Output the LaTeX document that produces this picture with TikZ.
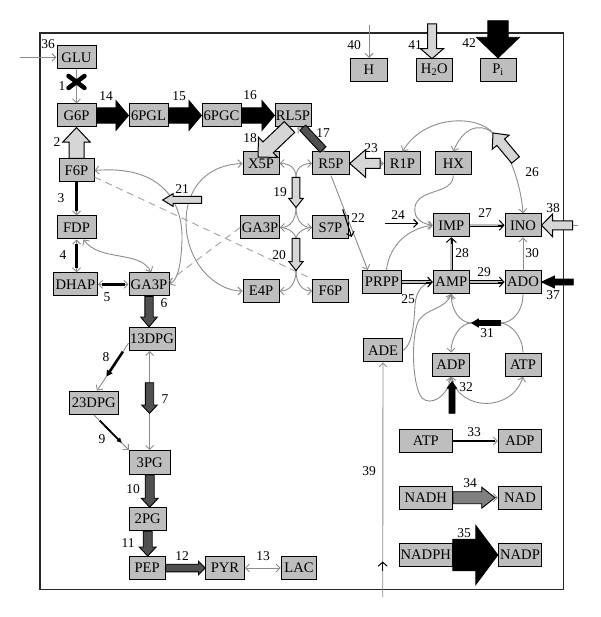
\documentclass[tikz,border=0pt]{standalone}
\usepackage{fontspec}
\setmainfont{Liberation Serif}
\usetikzlibrary{arrows.meta,calc}
\definecolor{boxfill}{RGB}{190,190,190}
\definecolor{lightfill}{RGB}{214,214,214}
\definecolor{darkfill}{RGB}{80,80,80}
\definecolor{midfill}{RGB}{128,128,128}
\definecolor{linegray}{RGB}{140,140,140}
\definecolor{dashgray}{RGB}{168,168,168}
\definecolor{framec}{RGB}{40,40,40}
\newcommand{\blkarr}[6]{%
  \draw[#1] let \p1=(#2), \p2=(#3), \p3=($(\p2)!#6pt!(\p1)$) in
   ($(\p1)!#4pt!90:(\p2)$) -- ($(\p3)!#4pt!90:(\p2)$) -- ($(\p3)!#5pt!90:(\p2)$) -- (\p2)
   -- ($(\p3)!#5pt!-90:(\p2)$) -- ($(\p3)!#4pt!-90:(\p2)$) -- ($(\p1)!#4pt!-90:(\p2)$) -- cycle;}
\begin{document}
\begin{tikzpicture}[x=1pt,y=-1pt,
  box/.style={draw=black, line width=1pt, fill=boxfill, minimum height=23pt, inner sep=0pt, font=\fontsize{14.6}{16}\selectfont},
  lab/.style={font=\fontsize{13.5}{15}\selectfont, inner sep=0pt},
  ga/.style={draw=linegray, line width=0.9pt, -{Straight Barb[length=4pt,width=8pt]}},
  gab/.style={draw=linegray, line width=0.9pt, {Straight Barb[length=4pt,width=8pt]}-{Straight Barb[length=4pt,width=8pt]}},
  gl/.style={draw=linegray, line width=0.9pt},
  dsh/.style={draw=dashgray, line width=1pt, dash pattern=on 7pt off 5pt},
  dbl/.style={draw=black, line width=0.7pt, double=boxfill, double distance=1.8pt, shorten >=2pt},
  dhead/.style={draw=black, line width=1pt, -{Straight Barb[length=4.5pt,width=10pt]}},
  bhead/.style={draw=black, line width=1.1pt, -{Straight Barb[length=4pt,width=8pt]}},
  blkfill/.style={fill=black, draw=black, line width=0.8pt},
  lfill/.style={fill=lightfill, draw=black, line width=1pt},
  dfill/.style={fill=darkfill, draw=black, line width=0.9pt},
  mfill/.style={fill=midfill, draw=black, line width=0.9pt}
]
\useasboundingbox (0,0) rectangle (600,617);
\draw[line width=1.2pt, draw=framec] (40,33) rectangle (563.5,589.5);

% ---------- boxes ----------
\node[box, minimum width=39pt] (GLU) at (76.5,57.5) {GLU};
\node[box, minimum width=39pt] (G6P) at (76.5,115.5) {G6P};
\node[box, minimum width=39pt] (pgl) at (148.5,115.5) {6PGL};
\node[box, minimum width=39pt] (pgc) at (221.5,115.5) {6PGC};
\node[box, minimum width=36pt] (RL5P) at (293,115.5) {RL5P};
\node[box, minimum width=36.6pt] (H) at (369,70) {H};
\node[box, minimum width=36.6pt] (HtwoO) at (434.3,70) {H\textsubscript{2}O};
\node[box, minimum width=36pt] (Pi) at (498,70) {P\textsubscript{i}};
\node[box, minimum width=35pt] (F6Pa) at (76.5,170.5) {F6P};
\node[box, minimum width=36pt] (X5P) at (261,163.5) {X5P};
\node[box, minimum width=36.6pt] (R5P) at (331,163.5) {R5P};
\node[box, minimum width=36.4pt] (R1P) at (402.5,163.5) {R1P};
\node[box, minimum width=36.6pt] (HX) at (453.3,163.5) {HX};
\node[box, minimum width=39pt] (FDP) at (76.5,227.5) {FDP};
\node[box, minimum width=44pt] (DHAP) at (75.5,284.3) {DHAP};
\node[box, minimum width=40pt] (GA3Pa) at (149,284.3) {GA3P};
\node[box, minimum width=38.6pt] (GA3Pb) at (260,227.5) {GA3P};
\node[box, minimum width=35.6pt] (S7P) at (330.5,227.5) {S7P};
\node[box, minimum width=36pt] (E4P) at (261,291) {E4P};
\node[box, minimum width=35.6pt] (F6Pb) at (330.5,291) {F6P};
\node[box, minimum width=36pt] (IMP) at (451.3,225.3) {IMP};
\node[box, minimum width=36pt] (INO) at (523,225.3) {INO};
\node[box, minimum width=39pt] (PRPP) at (382,282) {PRPP};
\node[box, minimum width=36pt] (AMP) at (451.3,282) {AMP};
\node[box, minimum width=36pt] (ADO) at (523,282) {ADO};
\node[box, minimum width=39.4pt] (ADE) at (383,350.3) {ADE};
\node[box, minimum width=36.6pt] (ADPa) at (451,364.7) {ADP};
\node[box, minimum width=36pt] (ATPa) at (523,364.7) {ATP};
\node[box, minimum width=46pt] (pc13) at (152,339) {13DPG};
\node[box, minimum width=49pt] (pc23) at (93.8,402.7) {23DPG};
\node[box, minimum width=40.7pt, minimum height=24pt] (PG3) at (149.7,462.5) {3PG};
\node[box, minimum width=36.7pt] (PG2) at (147.7,519.2) {2PG};
\node[box, minimum width=35.7pt] (PEP) at (147.2,568) {PEP};
\node[box, minimum width=38.6pt] (PYR) at (225,568) {PYR};
\node[box, minimum width=35.7pt] (LAC) at (299,568) {LAC};
\node[box, minimum width=53pt] (ATPb) at (425.8,441) {ATP};
\node[box, minimum width=43.3pt] (ADPb) at (520,441) {ADP};
\node[box, minimum width=53pt] (NADH) at (425.8,497.7) {NADH};
\node[box, minimum width=43.3pt] (NAD) at (520,497.7) {NAD};
\node[box, minimum width=53pt] (NADPH) at (425.8,555) {NADPH};
\node[box, minimum width=43.3pt] (NADP) at (520,555) {NADP};

% ---------- coordinates ----------
\coordinate (s36) at (20,57.5);
\coordinate (x1) at (76.5,82);
\coordinate (a7) at (149.5,382.7);
\coordinate (b7) at (149.5,413.3);
\coordinate (a17) at (323,149.5);
\coordinate (b17) at (302.5,127.5);
\coordinate (a18) at (289.5,127);
\coordinate (b18) at (258,157);
\coordinate (j19a) at (296,177.3);
\coordinate (j19b) at (296,207.5);
\coordinate (j20a) at (296,238.5);
\coordinate (j20b) at (296,270.5);
\coordinate (a21) at (201.7,200);
\coordinate (b21) at (162.7,200);
\coordinate (a22) at (342.7,209.3);
\coordinate (b22) at (351.7,237);
\coordinate (a23) at (380,163.5);
\coordinate (a24) at (385,223.3);
\coordinate (b24) at (418.3,223.3);
\coordinate (j26) at (493,133);
\coordinate (t26) at (515.5,160);
\coordinate (s38) at (578,225.3);
\coordinate (a38) at (572.7,225.3);
\coordinate (a37) at (573.3,282);
\coordinate (j31r) at (500.7,323);
\coordinate (j31l) at (471.7,323);
\coordinate (a32) at (452,413.3);
\coordinate (b32) at (452,381.7);
\coordinate (c34) at (495,497.7);
\coordinate (s39) at (382.7,597);
\coordinate (h39a) at (382.7,571);
\coordinate (h39b) at (382.7,561.5);
\coordinate (s40) at (369,25);
\coordinate (s41) at (432,24);
\coordinate (e41) at (432,58.7);
\coordinate (s42) at (498,20.7);

% ---------- thin connectors ----------
\draw[ga] (s36) -- (GLU.west);
\draw[ga] (GLU.south) -- (G6P.north);
\draw[line width=4.5pt, line cap=round] ($(x1)+(-8,-6)$) -- ($(x1)+(8,6)$) ($(x1)+(-8,6)$) -- ($(x1)+(8,-6)$);

\draw[ga] (F6Pa.south) -- (FDP.north);
\draw[line width=2.6pt, shorten >=4pt] (F6Pa.south) -- (FDP.north);
\draw[gab] (FDP.south) -- (FDP.south |- DHAP.north);
\draw[line width=2.6pt, shorten >=4pt, shorten <=4pt] (FDP.south) -- (FDP.south |- DHAP.north);
\draw[gab] (DHAP.east) -- (GA3Pa.west);
\draw[line width=2.6pt, shorten >=4pt, shorten <=4pt] (DHAP.east) -- (GA3Pa.west);
\draw[gab] (FDP.-60) .. controls (100,262) and (140,250) .. (GA3Pa.80);

\draw[gab] (PG3.north |- pc13.south) -- (PG3.north);
\draw[ga] (pc13.190) -- (pc23.75);
\draw[line width=2.6pt, -{Triangle[length=6pt,width=6.5pt]}] ($(pc13.190)!0.18!(pc23.75)$) -- ($(pc13.190)!0.7!(pc23.75)$);
\draw[ga] (pc23.south) -- (PG3.north west);
\draw[line width=1.8pt, -{Triangle[length=5pt,width=4.5pt]}] ($(pc23.south)!0.17!(PG3.north west)$) -- ($(pc23.south)!0.8!(PG3.north west)$);
\draw[gab] (PG3.south) -- (PG3.south |- PG2.north);
\draw[gab] (PYR.east) -- (LAC.west);

\draw[dsh] (F6Pa.-20) -- (F6Pb.north west);
\draw[dsh] (GA3Pb.west) -- (GA3Pa.10);

\draw[gab] (F6Pa.east) .. controls (160,165) and (183,200) .. (182,240) .. controls (181,268) and (177,280) .. (GA3Pa.east);
\draw[gab] (X5P.west) .. controls (205,165) and (186,190) .. (186,222) .. controls (186,262) and (215,291) .. (E4P.west);

\draw[gab] (RL5P.-70) -- (R5P.118);

\draw[gl] (j19a) -- (j19b);
\draw[gl] (j20a) -- (j20b);
\draw[ga] (j19a) .. controls (296,168) and (290,163.5) .. (X5P.east);
\draw[ga] (j19a) .. controls (296,168) and (302,163.5) .. (R5P.west);
\draw[ga] (j19b) .. controls (296,220) and (290,227.5) .. (GA3Pb.east);
\draw[ga] (j19b) .. controls (296,220) and (302,227.5) .. (S7P.west);
\draw[gl] (j20a) .. controls (296,235) and (290,227.5) .. (GA3Pb.east);
\draw[gl] (j20a) .. controls (296,235) and (302,227.5) .. (S7P.west);
\draw[ga] (j20b) .. controls (296,283) and (290,291) .. (E4P.east);
\draw[ga] (j20b) .. controls (296,283) and (302,291) .. (F6Pb.west);

\draw[ga] (R5P.south) -- (PRPP.140);
\draw[bhead] (a22) -- (b22);
\draw[ga] (a23) -- (R1P.west);
\draw[bhead] (a24) -- (b24);

\draw[ga] (HX.south) .. controls (453,195) and (418,188) .. (415,207) .. controls (413,220) and (424,224) .. (IMP.west);
\draw[ga] (PRPP.70) .. controls (390,243) and (410,228) .. (IMP.west);
\draw[ga] (ADE.east) .. controls (412,345) and (414,325) .. (415,305) .. controls (416,290) and (424,283) .. (AMP.west);

\draw[ga] (j26) .. controls (510,152) and (521,185) .. (INO.north);
\draw[ga] (j26) .. controls (478,121) and (462,130) .. (HX.north);
\draw[ga] (j26) .. controls (478,115) and (425,114) .. (R1P.north);

\draw[dbl] (IMP.east) -- (INO.west);
\draw[dhead] ($(INO.west)+(-7,0)$) -- (INO.west);
\draw[dbl] (AMP.east) -- (ADO.west);
\draw[dhead] ($(ADO.west)+(-7,0)$) -- (ADO.west);
\draw[dbl] (PRPP.east) -- (AMP.west);
\draw[dhead] ($(AMP.west)+(-7,0)$) -- (AMP.west);
\draw[dbl] (AMP.north) -- (IMP.south);
\draw[dhead] ($(IMP.south)+(0,7)$) -- (IMP.south);
\draw[ga] (ADO.north) -- (INO.south);
\draw[gl] (s38) -- (a38);

\draw[gl] (ADO.south) .. controls (523,312) and (512,323) .. (j31r);
\draw[gl] (ATPa.north) .. controls (523,338) and (512,324) .. (j31r);
\draw[gl] (j31l) -- (j31r);
\draw[ga] (j31l) .. controls (460,323) and (451,310) .. (AMP.south);
\draw[ga] (j31l) .. controls (460,323) and (451,338) .. (ADPa.north);
\draw[gab] (AMP.south) .. controls (445,310) and (425,308) .. (418,322) .. controls (411,338) and (412,386) .. (422,398) .. controls (430,406) and (447,398) .. (ADPa.south);
\draw[gab] (ADPa.south) .. controls (460,412) and (512,412) .. (ATPa.south);

\draw[ga] (ATPb.east) -- (ADPb.west);
\draw[line width=1.1pt, shorten >=3pt] (ATPb.east) -- (ADPb.west);
\draw[ga] (c34) -- (NAD.west);

\draw[ga] (s39) -- (ADE.south);
\draw[draw=black, line width=1pt, -{Straight Barb[length=4pt,width=9pt]}] (h39a) -- (h39b);
\draw[ga] (s40) -- (H.north);

% ---------- block arrows ----------
\blkarr{blkfill}{G6P.east}{pgl.west}{7.7}{15}{12.6}
\blkarr{blkfill}{pgl.east}{pgc.west}{7.7}{15}{12.6}
\blkarr{blkfill}{pgc.east}{RL5P.west}{7.7}{15}{12.6}
\blkarr{lfill}{F6Pa.north}{G6P.south}{7.5}{13.7}{14.6}
\blkarr{dfill}{GA3Pa.south}{GA3Pa.south |- pc13.north}{4.2}{8.3}{10}
\blkarr{dfill}{a7}{b7}{4.2}{7.8}{8.3}
\blkarr{dfill}{PG3.south}{PG3.south |- PG2.north}{4.5}{8.5}{9}
\blkarr{dfill}{PG2.south}{PG2.south |- PEP.north}{4.5}{8.5}{9}
\blkarr{dfill}{PEP.east}{PYR.west}{3.8}{6.7}{6.7}
\blkarr{dfill}{a17}{b17}{4}{4}{0.5}
\blkarr{lfill}{a18}{b18}{7.5}{14}{14}
\blkarr{lfill}{j19a}{j19b}{3.8}{7.2}{9}
\blkarr{lfill}{j20a}{j20b}{3.8}{7.2}{9}
\blkarr{lfill}{a21}{b21}{3.5}{6.3}{10.3}
\blkarr{lfill}{a23}{R5P.east}{5}{13.8}{15.7}
\blkarr{lfill}{t26}{j26}{5}{11}{12}
\blkarr{lfill}{a38}{INO.east}{4.5}{11.3}{11}
\blkarr{blkfill}{a37}{ADO.east}{3}{6}{13}
\blkarr{blkfill}{j31r}{j31l}{2.5}{4}{6.7}
\blkarr{blkfill}{a32}{b32}{3}{4.7}{6.6}
\blkarr{mfill}{NADH.east}{c34}{6}{10.5}{13.3}
\blkarr{blkfill}{NADPH.east}{NADP.west}{15.8}{29.5}{22}
\blkarr{lfill}{s41}{e41}{4.5}{11.5}{10}
\blkarr{blkfill}{s42}{Pi.north}{10.2}{21.5}{20.7}

% ---------- labels ----------
\node[lab] (l36) at (48,44) {36};
\node[lab] (l1) at (62,86) {1};
\node[lab] (l14) at (106,96) {14};
\node[lab] (l15) at (179,96) {15};
\node[lab] (l16) at (250,95) {16};
\node[lab] (l2) at (57,142) {2};
\node[lab] (l3) at (61,198) {3};
\node[lab] (l4) at (63,255) {4};
\node[lab] (l5) at (107,297) {5};
\node[lab] (l6) at (164,303) {6};
\node[lab] (l7) at (165,399) {7};
\node[lab] (l8) at (106,357) {8};
\node[lab] (l9) at (102,439) {9};
\node[lab] (l10) at (133,489) {10};
\node[lab] (l11) at (128,543) {11};
\node[lab] (l12) at (182,556) {12};
\node[lab] (l13) at (263,556) {13};
\node[lab] (l17) at (323,133) {17};
\node[lab] (l18) at (250,138) {18};
\node[lab] (l19) at (280,192) {19};
\node[lab] (l20) at (279,255) {20};
\node[lab] (l21) at (182,189) {21};
\node[lab] (l22) at (358,218) {22};
\node[lab] (l23) at (371,148) {23};
\node[lab] (l24) at (398,215) {24};
\node[lab] (l25) at (408,299) {25};
\node[lab] (l26) at (532,172) {26};
\node[lab] (l27) at (485,213) {27};
\node[lab] (l28) at (462,253) {28};
\node[lab] (l29) at (484,272) {29};
\node[lab] (l30) at (532,253) {30};
\node[lab] (l31) at (487,333) {31};
\node[lab] (l32) at (466,387) {32};
\node[lab] (l33) at (474,432) {33};
\node[lab] (l34) at (470,483) {34};
\node[lab] (l35) at (464,533) {35};
\node[lab] (l37) at (553,295) {37};
\node[lab] (l38) at (553,208) {38};
\node[lab] (l39) at (369,471) {39};
\node[lab] (l40) at (354,45) {40};
\node[lab] (l41) at (415,45) {41};
\node[lab] (l42) at (469,43) {42};
\end{tikzpicture}
\end{document}
